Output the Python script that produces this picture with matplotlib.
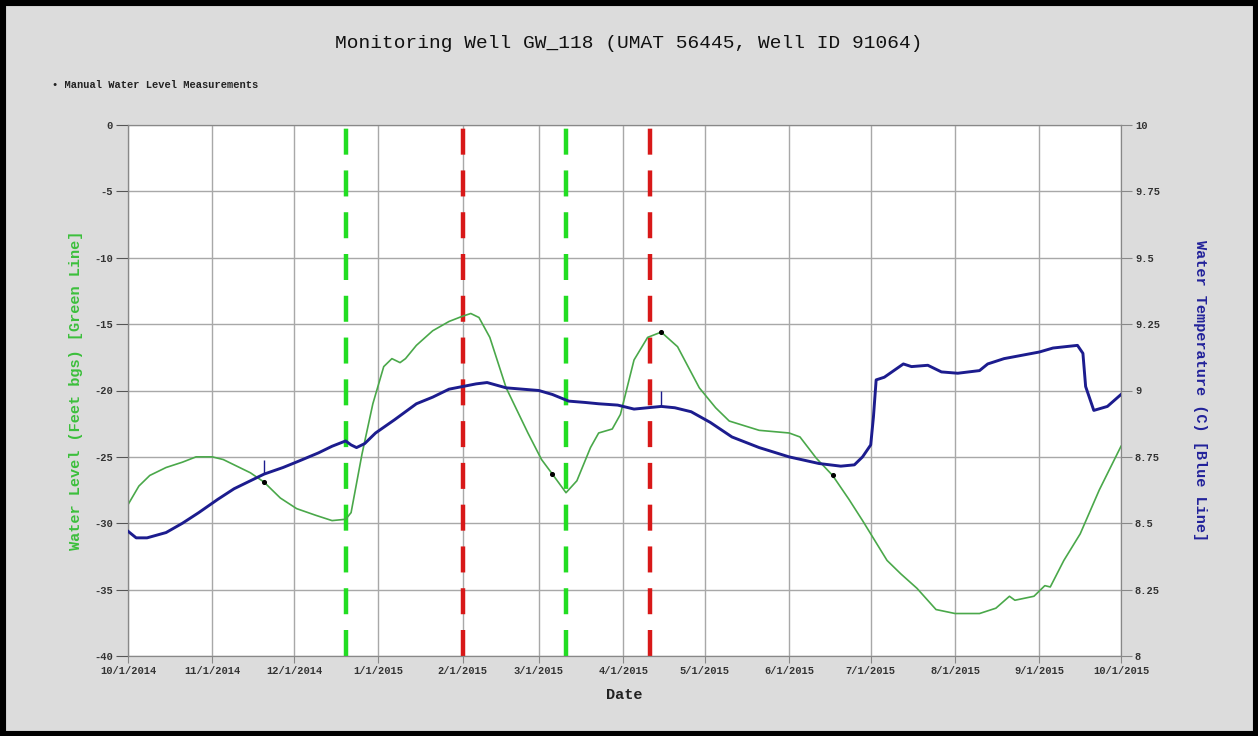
import matplotlib
matplotlib.use("Agg")
import matplotlib.pyplot as plt
import matplotlib.dates as mdates
import matplotlib.patches as patches
import pandas as pd

plt.rcParams["axes.unicode_minus"] = False

# data (days after 10/1/2014)
start = pd.Timestamp("2014-10-01")

green_day = [0, 4, 8, 14, 20, 25, 31, 35, 39, 45, 50, 56, 62, 69, 75, 80, 82, 84, 86, 90,
             94, 97, 100, 102, 106, 112, 118, 123, 126, 129, 133, 139, 147, 152, 156, 161,
             165, 170, 173, 178, 181, 186, 191, 196, 202, 210, 216, 221, 232, 243, 247, 253,
             259, 265, 270, 279, 284, 290, 297, 304, 313, 319, 324, 326, 333, 337, 339, 344,
             350, 357, 365]
green_level = [-28.6, -27.2, -26.4, -25.8, -25.4, -25.0, -25.0, -25.2, -25.6, -26.2, -26.9,
               -28.1, -28.9, -29.4, -29.8, -29.7, -29.2, -27.0, -24.8, -21.0, -18.2, -17.6,
               -17.9, -17.6, -16.6, -15.5, -14.8, -14.4, -14.2, -14.5, -16.0, -19.8, -23.2,
               -25.2, -26.3, -27.7, -26.8, -24.3, -23.2, -22.9, -21.8, -17.7, -16.0, -15.6,
               -16.7, -19.8, -21.3, -22.3, -23.0, -23.2, -23.5, -25.1, -26.4, -28.2, -29.8,
               -32.8, -33.8, -34.9, -36.5, -36.8, -36.8, -36.4, -35.5, -35.8, -35.5, -34.7,
               -34.8, -32.8, -30.8, -27.5, -24.2]

blue_day = [0, 3, 7, 14, 20, 26, 33, 39, 45, 50, 57, 63, 70, 75, 80, 82, 84, 87, 91, 98,
            106, 112, 118, 123, 128, 132, 139, 145, 151, 156, 162, 168, 173, 180, 186, 191,
            196, 201, 207, 214, 222, 232, 243, 254, 262, 267, 270, 272, 273, 274, 275, 278,
            285, 288, 294, 299, 305, 313, 316, 322, 335, 340, 349, 351, 352, 355, 360, 365]
blue_temp = [8.47, 8.445, 8.445, 8.465, 8.50, 8.54, 8.59, 8.63, 8.66, 8.685, 8.71, 8.735,
             8.765, 8.79, 8.81, 8.795, 8.785, 8.80, 8.84, 8.89, 8.95, 8.975, 9.005, 9.015,
             9.025, 9.03, 9.01, 9.005, 9.00, 8.985, 8.96, 8.955, 8.95, 8.945, 8.93, 8.935,
             8.94, 8.935, 8.92, 8.88, 8.825, 8.785, 8.75, 8.725, 8.715, 8.72, 8.75, 8.78,
             8.795, 8.90, 9.04, 9.05, 9.10, 9.09, 9.095, 9.07, 9.065, 9.075, 9.10, 9.12,
             9.145, 9.16, 9.17, 9.14, 9.015, 8.925, 8.94, 8.985]

# short spikes in the temperature record
spike_day = [50, 196]
spike_low = [8.685, 8.94]
spike_high = [8.74, 9.00]

manual_day = [50, 156, 196, 259]
manual_level = [-26.9, -26.3, -15.6, -26.4]

green_events = ["2014-12-20", "2015-03-11"]
red_events = ["2015-02-01", "2015-04-11"]

month_ticks = pd.date_range("2014-10-01", "2015-10-01", freq="MS")
left_ticks = [0, -5, -10, -15, -20, -25, -30, -35, -40]
right_ticks = [8, 8.25, 8.5, 8.75, 9, 9.25, 9.5, 9.75, 10]
right_labels = ["8", "8.25", "8.5", "8.75", "9", "9.25", "9.5", "9.75", "10"]

mono = "Liberation Mono"
tick_col = "#333333"


def to_dates(days):
    return [start + pd.Timedelta(days=d) for d in days]


fig = plt.figure(figsize=(12.58, 7.36), dpi=100, facecolor="#dcdcdc")
ax = fig.add_axes([128 / 1258, 80 / 736, 993 / 1258, 531 / 736])
ax.set_facecolor("white")
ax2 = ax.twinx()

ax.plot(to_dates(green_day), green_level, color="#4aa84a", lw=1.2, zorder=3)
ax.scatter(to_dates(manual_day), manual_level, s=7, color="black", zorder=4)

dash_style = (0, (5.85, 3.55))
for d in green_events:
    ax.axvline(pd.Timestamp(d), ymax=0.9936, color="#22dd22", lw=3.2, linestyle=dash_style, zorder=2)
for d in red_events:
    ax.axvline(pd.Timestamp(d), ymax=0.9936, color="#d81818", lw=3.2, linestyle=dash_style, zorder=2)

ax2.plot(to_dates(blue_day), blue_temp, color="#1c1c8e", lw=2.1, zorder=5)
ax2.vlines(to_dates(spike_day), spike_low, spike_high, color="#1c1c8e", lw=1)

ax.set_xlim(start, pd.Timestamp("2015-10-01"))
ax.set_ylim(-40, 0)
ax2.set_ylim(8, 10)

ax.set_xticks(month_ticks)
ax.xaxis.set_major_formatter(mdates.DateFormatter("%-m/%-d/%Y"))
ax.set_yticks(left_ticks)
ax2.set_yticks(right_ticks)
ax2.set_yticklabels(right_labels)

ax.grid(True, color="#a8a8a8", lw=1)
ax.set_axisbelow(True)

for a in (ax, ax2):
    for s in a.spines.values():
        s.set_color("#888888")
ax.spines["left"].set_color("#444444")

ax.tick_params(axis="x", length=5, color="#888888", labelcolor=tick_col, labelsize=7.5, pad=2)
ax.tick_params(axis="y", length=9, color="#555555", labelcolor=tick_col, labelsize=7.5, pad=2)
ax2.tick_params(axis="y", length=8, color="#888888", labelcolor=tick_col, labelsize=7.5, pad=2)
for lab in ax.get_xticklabels() + ax.get_yticklabels() + ax2.get_yticklabels():
    lab.set_family(mono)
    lab.set_fontweight("bold")

ax.set_xlabel("Date", family=mono, fontsize=11, fontweight="bold", color="#222222", labelpad=9)
ax.set_ylabel("Water Level (Feet bgs) [Green Line]", family=mono, fontsize=11,
              fontweight="bold", color="#3cbf3c", labelpad=8)
ax2.set_ylabel("Water Temperature (C) [Blue Line]", family=mono, fontsize=11,
               fontweight="bold", color="#22229a", rotation=270, labelpad=34)

fig.text(0.5, 693 / 736, "Monitoring Well GW_118 (UMAT 56445, Well ID 91064)",
         family=mono, fontsize=14, ha="center", va="center", color="#111111")
fig.text(52 / 1258, 651 / 736, "\u2022 Manual Water Level Measurements", family=mono,
         fontsize=7.5, fontweight="bold", ha="left", va="center", color="#222222")

fig.patches.append(patches.Rectangle((0, 0), 1, 1, transform=fig.transFigure, fill=False,
                                     lw=8, ec="black"))

fig.savefig("out.png", dpi=100, facecolor=fig.get_facecolor())
